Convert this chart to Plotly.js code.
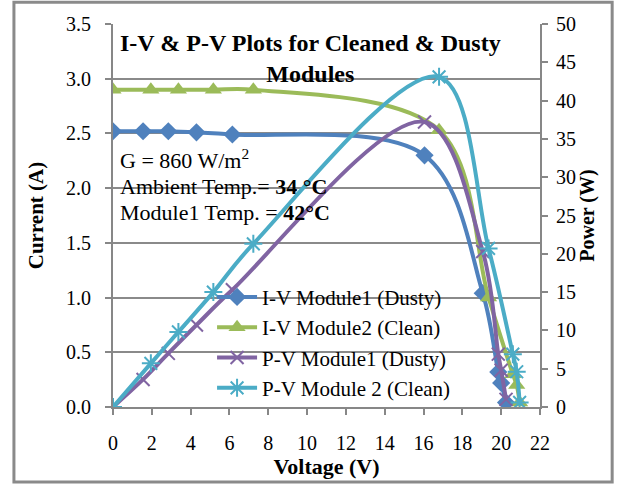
<!DOCTYPE html>
<html>
<head>
<meta charset="utf-8">
<script src="https://cdn.plot.ly/plotly-3.0.1.min.js"></script>
<style>
html,body{margin:0;padding:0;background:#fff;}
#chart{width:618px;height:485px;}
</style>
</head>
<body>
<div id="chart"></div>
<script>
// Module 1 (Dusty)
var V1 = [0, 1.55, 2.85, 4.3, 6.15, 16.05, 19.05, 19.85, 20.0, 20.25];
var I1 = [2.52, 2.52, 2.52, 2.51, 2.49, 2.30, 1.04, 0.32, 0.22, 0.04];
var P1 = [0, 3.6, 7.0, 10.7, 15.3, 37.2, 20.3, 6.9, 4.8, 1.0];
// Module 2 (Clean)
var V2 = [0, 1.95, 3.37, 5.17, 7.23, 16.8, 19.35, 20.6, 20.8, 20.95];
var I2 = [2.9, 2.9, 2.9, 2.9, 2.9, 2.53, 1.0, 0.3, 0.2, 0.04];
var P2 = [0, 5.7, 9.8, 15.0, 21.3, 43.1, 20.7, 6.9, 4.6, 0.6];

var names = ["I-V Module1 (Dusty)", "I-V Module2 (Clean)", "P-V Module1 (Dusty)", "P-V Module 2 (Clean)"];
var colors = ["#4F81BD", "#9BBB59", "#8064A2", "#4BACC6"];

var FONT = "'Liberation Serif', 'Times New Roman', serif";

var traces = [
  {x: V1, y: I1, name: names[0], type: 'scatter', mode: 'lines+markers', yaxis: 'y',
   line: {color: colors[0], width: 4, shape: 'spline', smoothing: 1},
   marker: {symbol: 'diamond', size: 14, color: colors[0]}},
  {x: V2, y: I2, name: names[1], type: 'scatter', mode: 'lines+markers', yaxis: 'y',
   line: {color: colors[1], width: 4, shape: 'spline', smoothing: 1},
   marker: {symbol: 'triangle-up', size: 15, color: colors[1]}},
  {x: V1, y: P1, name: names[2], type: 'scatter', mode: 'lines+markers', yaxis: 'y2',
   line: {color: colors[2], width: 4, shape: 'spline', smoothing: 1},
   marker: {symbol: 'x-thin-open', size: 13, color: colors[2], line: {color: colors[2], width: 2}}},
  {x: V2, y: P2, name: names[3], type: 'scatter', mode: 'lines+markers', yaxis: 'y2',
   line: {color: colors[3], width: 4, shape: 'spline', smoothing: 1},
   marker: {symbol: 'asterisk-open', size: 15, color: colors[3], line: {color: colors[3], width: 2}}}
];

var layout = {
  width: 618, height: 485,
  margin: {l: 113, r: 78, t: 24, b: 78, pad: 0},
  paper_bgcolor: '#fff', plot_bgcolor: '#fff',
  font: {family: FONT, size: 16, color: '#000'},
  showlegend: true,
  legend: {x: 0.232, y: 0.34, xanchor: 'left', yanchor: 'top', bgcolor: 'rgba(0,0,0,0)',
           font: {family: FONT, size: 21, color: '#000'}, tracegroupgap: 0, itemwidth: 40},
  xaxis: {range: [0, 22], dtick: 2, tick0: 0, showgrid: false, zeroline: false,
          showline: true, linecolor: '#878787', linewidth: 2,
          ticks: 'outside', ticklen: 6, tickcolor: '#878787', tickwidth: 2,
          ticklabelstandoff: 11,
          tickfont: {family: FONT, size: 20, color: '#000'},
          title: {text: '<b>Voltage (V)</b>', font: {family: FONT, size: 22, color: '#000'}, standoff: 0}},
  yaxis: {range: [0, 3.5], dtick: 0.5, tick0: 0, tickformat: '.1f', showgrid: true,
          gridcolor: '#8a8a8a', gridwidth: 2, zeroline: false,
          showline: true, linecolor: '#878787', linewidth: 2,
          ticks: 'outside', ticklen: 6, tickcolor: '#878787', tickwidth: 2,
          ticklabelstandoff: 10,
          tickfont: {family: FONT, size: 20, color: '#000'},
          title: {text: '<b>Current (A)</b>', font: {family: FONT, size: 21, color: '#000'}, standoff: 17}},
  yaxis2: {range: [0, 50], dtick: 5, tick0: 0, overlaying: 'y', side: 'right', showgrid: false,
           zeroline: false, showline: true, linecolor: '#878787', linewidth: 2,
           ticks: 'outside', ticklen: 6, tickcolor: '#878787', tickwidth: 2,
           ticklabelstandoff: 4,
           tickfont: {family: FONT, size: 20, color: '#000'},
           title: {text: '<b>Power (W)</b>', font: {family: FONT, size: 20, color: '#000'}, standoff: 0}},
  shapes: [
    {type: 'rect', xref: 'paper', yref: 'paper', x0: -0.232, x1: 1.169, y0: -0.196, y1: 1.057,
     line: {color: '#8a8a8a', width: 3}, fillcolor: 'rgba(0,0,0,0)', layer: 'below'}
  ],
  annotations: [
    {xref: 'paper', yref: 'paper', x: 0.462, y: 0.99, xanchor: 'center', yanchor: 'top',
     text: '<b>I-V & P-V Plots for Cleaned & Dusty<br>Modules</b>', showarrow: false, align: 'center',
     font: {family: FONT, size: 24, color: '#000'}},
    {xref: 'paper', yref: 'paper', x: 0.012, y: 0.648, xanchor: 'left', yanchor: 'middle', align: 'left',
     text: 'G = 860 W/m<sup>2</sup>', showarrow: false, font: {family: FONT, size: 22, color: '#000'}},
    {xref: 'paper', yref: 'paper', x: 0.012, y: 0.575, xanchor: 'left', yanchor: 'middle', align: 'left',
     text: 'Ambient Temp.= <b>34 °C</b>', showarrow: false, font: {family: FONT, size: 22, color: '#000'}},
    {xref: 'paper', yref: 'paper', x: 0.012, y: 0.507, xanchor: 'left', yanchor: 'middle', align: 'left',
     text: 'Module1 Temp. = <b>42°C</b>', showarrow: false, font: {family: FONT, size: 22, color: '#000'}}
  ]
};

Plotly.newPlot('chart', traces, layout, {displayModeBar: false, staticPlot: true});
</script>
</body>
</html>
